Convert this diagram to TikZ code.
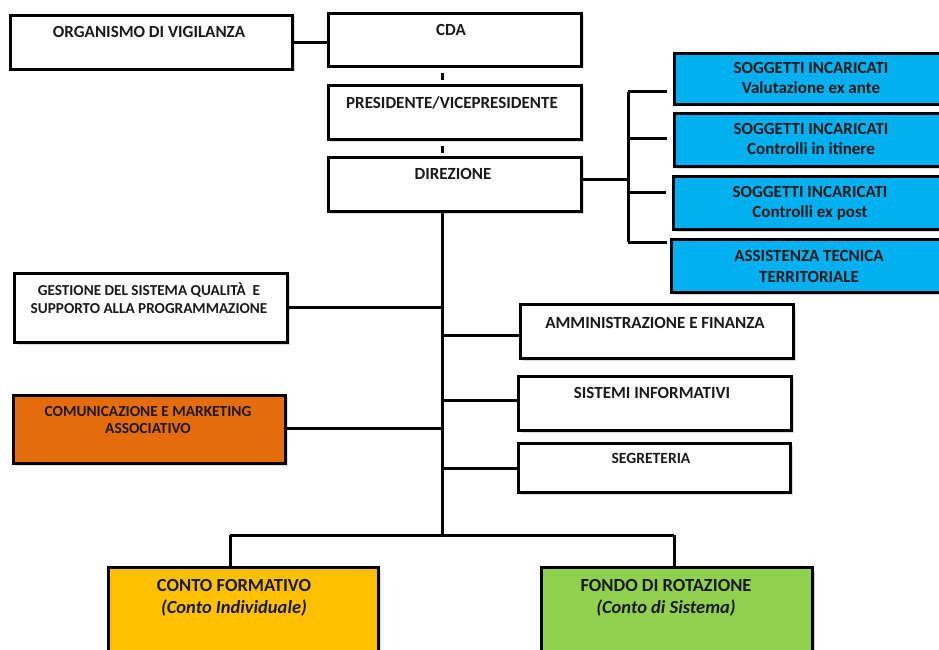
\documentclass[tikz,border=0pt]{standalone}
\usepackage{fontspec}
\setmainfont{Carlito}
\usetikzlibrary{shadows,calc}
\definecolor{cblue}{HTML}{00B0F0}
\definecolor{corange}{HTML}{E46C0A}
\definecolor{cyellow}{HTML}{FFC000}
\definecolor{cgreen}{HTML}{92D050}
\definecolor{ctext}{HTML}{1A1A1A}
\newcommand\mkbox[6]{\node[box,#6,minimum width={(#4-#2)*1pt},minimum height={(#5-#3)*1pt}] (#1) at (#2,#3) {};}
\begin{document}
\begin{tikzpicture}[x=1pt,y=-1pt,
  box/.style={draw=black, line width=3pt, fill=white, rectangle, inner sep=0pt, anchor=north west,
    drop shadow={opacity=0.28, shadow xshift=2pt, shadow yshift=-2pt}},
  lbl/.style={font=\bfseries\fontsize{17}{20}\selectfont, align=center, inner sep=0pt, text=ctext},
  big/.style={font=\bfseries\fontsize{18.5}{22}\selectfont, align=center, inner sep=0pt, text=ctext},
  conn/.style={line width=3pt, draw=black}
]
\useasboundingbox (0,0) rectangle (939,650);
\clip (0,0) rectangle (939,650);
\fill[white] (0,0) rectangle (939,650);

% top column
\mkbox{org}{9}{14}{291}{68}{}
\mkbox{cda}{327}{12}{580}{65}{}
\mkbox{pres}{327}{84}{580}{138}{}
\mkbox{dir}{327}{156}{580}{210}{}

% blue boxes
\mkbox{s1}{673}{52}{949}{103}{fill=cblue}
\mkbox{s2}{673}{112}{949}{165}{fill=cblue}
\mkbox{s3}{672}{175}{949}{228}{fill=cblue}
\mkbox{s4}{670}{238}{949}{291}{fill=cblue}

% left boxes
\mkbox{gest}{13}{272}{286}{341}{}
\mkbox{com}{12}{394}{284}{462}{fill=corange}

% right boxes
\mkbox{amm}{519}{303}{792}{357}{}
\mkbox{sis}{517}{375}{790}{429}{}
\mkbox{seg}{517}{442}{789}{491}{}

% bottom boxes
\mkbox{conto}{107}{566}{377}{670}{fill=cyellow}
\mkbox{fondo}{540}{566}{811}{670}{fill=cgreen}

% texts
\node[lbl] (orgT) at (149,32) {ORGANISMO DI VIGILANZA};
\node[lbl] (cdaT) at (451,30) {CDA};
\node[lbl] (presT) at (452,103) {PRESIDENTE/VICEPRESIDENTE};
\node[lbl] (dirT) at (453,174) {DIREZIONE};
\node[lbl, font=\bfseries\fontsize{17}{20}\selectfont] (s1T) at (811,78) {SOGGETTI INCARICATI\\Valutazione ex ante};
\node[lbl, font=\bfseries\fontsize{17}{20}\selectfont] (s2T) at (811,139) {SOGGETTI INCARICATI\\Controlli in itinere};
\node[lbl, font=\bfseries\fontsize{17}{20}\selectfont] (s3T) at (810,203) {SOGGETTI INCARICATI\\Controlli ex post};
\node[lbl, font=\bfseries\fontsize{17}{21}\selectfont] (s4T) at (809,266) {ASSISTENZA TECNICA\\TERRITORIALE};
\node[lbl, font=\bfseries\fontsize{15.2}{18}\selectfont] (gestT) at (149,298) {GESTIONE DEL SISTEMA QUALITÀ\ \ E\\SUPPORTO ALLA PROGRAMMAZIONE};
\node[lbl, font=\bfseries\fontsize{15.4}{17}\selectfont] (comT) at (148,420) {COMUNICAZIONE E MARKETING\\ASSOCIATIVO};
\node[lbl] (ammT) at (655,323) {AMMINISTRAZIONE E FINANZA};
\node[lbl] (sisT) at (652,393) {SISTEMI INFORMATIVI};
\node[lbl, font=\bfseries\fontsize{15.6}{18}\selectfont] (segT) at (651,458) {SEGRETERIA};
\node[big] (contoT) at (234,598) {CONTO FORMATIVO\\\itshape (Conto Individuale)};
\node[big] (fondoT) at (666,598) {FONDO DI ROTAZIONE\\\itshape (Conto di Sistema)};

% coordinates
\coordinate (tk) at (442,0);
\coordinate (br) at (628,0);
\coordinate (b1) at (628,92);
\coordinate (b2) at (628,138);
\coordinate (b3) at (628,192);
\coordinate (b4) at (628,242);
\coordinate (tb) at (442,535);
\coordinate (hl) at (230,535);
\coordinate (hr) at (674,535);

% connectors
\draw[conn] (org.east) -- (org.east -| cda.west);
\draw[conn, shorten <=5pt, shorten >=4pt] (cda.south -| tk) -- (pres.north -| tk);
\draw[conn, shorten <=5pt, shorten >=3pt] (pres.south -| tk) -- (dir.north -| tk);
\draw[conn] ($(dir.east)+(0,-5)$) -- ($(dir.east -| br)+(0,-5)$);
\draw[conn] (b1) -- (b4);
\draw[conn] (b1) -- ([xshift=-6pt]s1.west |- b1);
\draw[conn] (b2) -- ([xshift=-6pt]s2.west |- b2);
\draw[conn] (b3) -- ([xshift=-6pt]s3.west |- b3);
\draw[conn] (b4) -- ([xshift=-3pt]s4.west |- b4);
\draw[conn] (dir.south -| tk) -- (tb);
\draw[conn] (gest.east |- 0,307) -- (tk |- 0,307);
\draw[conn] (com.east |- 0,428) -- (tk |- 0,428);
\draw[conn] (tk |- 0,335) -- (amm.west |- 0,335);
\draw[conn] (tk |- 0,400) -- (sis.west |- 0,400);
\draw[conn] (tk |- 0,468) -- (seg.west |- 0,468);
\draw[conn] (hl) -- (hr);
\draw[conn] (hl) -- (conto.north -| hl);
\draw[conn] (hr) -- (fondo.north -| hr);
\end{tikzpicture}
\end{document}
